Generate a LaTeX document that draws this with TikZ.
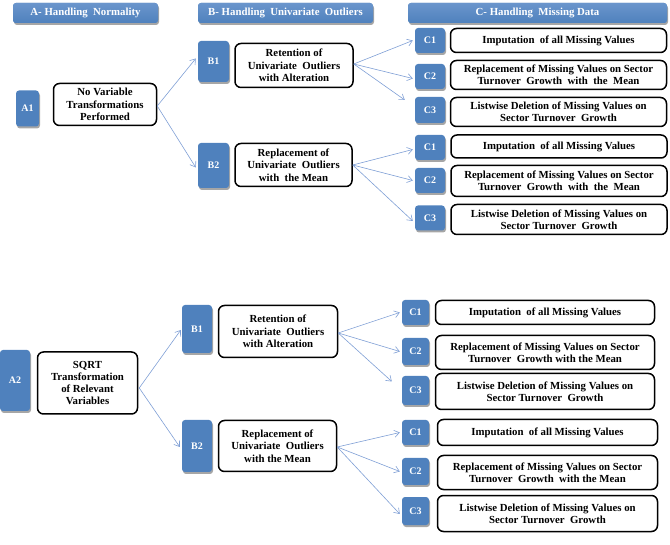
\documentclass[tikz,border=0pt]{standalone}
\usepackage{fontspec}
\setmainfont{Liberation Serif}
\newfontfamily\tnr{Liberation Serif}
\usetikzlibrary{shadows,arrows.meta}
\definecolor{boxblue}{HTML}{4F81BD}
\definecolor{hdrtop}{HTML}{6A95CC}
\definecolor{arrowblue}{HTML}{7F9FD5}
\tikzset{
  bluebox/.style={fill=boxblue, rounded corners=3pt, text=white, inner sep=0pt,
    font=\tnr\bfseries\fontsize{10}{11}\selectfont,
    drop shadow={shadow xshift=1pt, shadow yshift=-2pt, opacity=0.35, fill=black}},
  hdr/.style={bluebox, top color=hdrtop, bottom color=boxblue, minimum height=20pt,
    font=\tnr\bfseries\fontsize{10.8}{12}\selectfont},
  tbox/.style={draw=black, line width=1.5pt, rounded corners=6pt, fill=white,
    align=center, inner sep=1pt, font=\tnr\bfseries\fontsize{10.8}{12.3}\selectfont},
  conn/.style={draw=arrowblue, line width=0.6pt, -{Straight Barb[length=5pt,width=7pt]}}
}
\begin{document}
\begin{tikzpicture}[x=1pt,y=-1pt]
\useasboundingbox (0,0) rectangle (670,545);
% headers
\node[hdr, minimum width=145pt] (hA) at (85.5,13) {A- Handling\ \ Normality};
\node[hdr, minimum width=175pt] (hB) at (285.5,13) {B- Handling\ \ Univariate\ \ Outliers};
\node[hdr, minimum width=259pt] (hC) at (537.5,13) {C- Handling\ \ Missing Data};

% ===== top section =====
\node[bluebox, minimum width=23pt, minimum height=36pt] (a1) at (27.5,108.5) {A1};
\node[tbox, minimum width=103pt, minimum height=42pt] (a1t) at (105,104.5) {No Variable\\Transformations\\Performed};

\node[bluebox, minimum width=31pt, minimum height=41pt] (b1) at (213.5,61.5) {B1};
\node[tbox, minimum width=118pt, minimum height=44pt] (b1t) at (294,65.5) {Retention of\\Univariate\ \ Outliers\\with Alteration};
\node[bluebox, minimum width=31pt, minimum height=45pt] (b2) at (213.5,165.5) {B2};
\node[tbox, minimum width=117pt, minimum height=43pt] (b2t) at (293.5,165) {Replacement of\\Univariate\ \ Outliers\\with\ \ the Mean};

\node[bluebox, minimum width=30pt, minimum height=25pt] (c1) at (430,40.5) {C1};
\node[bluebox, minimum width=30pt, minimum height=25pt] (c2) at (430,76.5) {C2};
\node[bluebox, minimum width=30pt, minimum height=26pt] (c3) at (430,110) {C3};
\node[tbox, minimum width=216pt, minimum height=24pt] (t1) at (558.5,40.5) {Imputation\ \ of all Missing Values};
\node[tbox, minimum width=216pt, minimum height=29pt] (t2) at (558.5,75) {Replacement of Missing Values on Sector\\Turnover\ \ Growth\ \ with\ \ the\ \ Mean};
\node[tbox, minimum width=216pt, minimum height=29pt] (t3) at (558.5,112) {Listwise Deletion of Missing Values on\\Sector Turnover\ \ Growth};

\node[bluebox, minimum width=30pt, minimum height=25pt] (c4) at (430,147.5) {C1};
\node[bluebox, minimum width=30pt, minimum height=25pt] (c5) at (430,180.5) {C2};
\node[bluebox, minimum width=30pt, minimum height=25pt] (c6) at (430,218) {C3};
\node[tbox, minimum width=216pt, minimum height=23pt] (t4) at (559,146.5) {Imputation\ \ of all Missing Values};
\node[tbox, minimum width=216pt, minimum height=31pt] (t5) at (559,181) {Replacement of Missing Values on Sector\\Turnover\ \ Growth\ \ with\ \ the\ \ Mean};
\node[tbox, minimum width=216pt, minimum height=30pt] (t6) at (559,219.5) {Listwise Deletion of Missing Values on\\Sector Turnover\ \ Growth};

\coordinate (a1o) at ([yshift=-1.5pt]a1t.east);
\draw[conn] (a1o) -- ([xshift=-2pt,yshift=3pt]b1.west);
\draw[conn] (a1o) -- ([xshift=-2pt,yshift=-2pt]b2.west);
\coordinate (b1o) at ([yshift=1.5pt]b1t.east);
\coordinate (e1) at ([xshift=-10pt,yshift=10pt]c3.west);
\draw[conn] (b1o) -- ([xshift=-2pt]c1.west);
\draw[conn] (b1o) -- ([xshift=-2pt,yshift=-2pt]c2.west);
\draw[conn] (b1o) -- (e1);
\draw[conn] (b2t.east) -- ([xshift=-2pt,yshift=-2pt]c4.west);
\draw[conn] (b2t.east) -- ([xshift=-2pt]c5.west);
\draw[conn] (b2t.east) -- ([xshift=-2pt,yshift=-3pt]c6.west);

% ===== bottom section =====
\node[bluebox, minimum width=30pt, minimum height=61pt] (a2) at (15,380.5) {A2};
\node[tbox, minimum width=100pt, minimum height=62pt] (a2t) at (87.5,383) {SQRT\\Transformation\\of Relevant\\Variables};

\node[bluebox, minimum width=30pt, minimum height=48pt] (b3) at (197,329) {B1};
\node[tbox, minimum width=119pt, minimum height=52pt] (b3t) at (278,331.5) {Retention of\\Univariate\ \ Outliers\\with Alteration};
\node[bluebox, minimum width=30pt, minimum height=52pt] (b4) at (197,446) {B2};
\node[tbox, minimum width=118pt, minimum height=51pt] (b4t) at (277.5,446) {Replacement of\\Univariate\ \ Outliers\\with the Mean};

\node[bluebox, minimum width=27pt, minimum height=25pt] (c7) at (415.5,312.5) {C1};
\node[bluebox, minimum width=27pt, minimum height=27pt] (c8) at (415.5,351.5) {C2};
\node[bluebox, minimum width=27pt, minimum height=29pt] (c9) at (415.5,390.5) {C3};
\node[tbox, minimum width=219pt, minimum height=24pt] (t7) at (545,312.5) {Imputation\ \ of all Missing Values};
\node[tbox, minimum width=219pt, minimum height=34pt] (t8) at (545,352.5) {Replacement of Missing Values on Sector\\Turnover\ \ Growth with the Mean};
\node[tbox, minimum width=219pt, minimum height=36pt] (t9) at (545,391.5) {Listwise Deletion of Missing Values on\\Sector Turnover\ \ Growth};

\node[bluebox, minimum width=27pt, minimum height=25pt] (c10) at (415.5,432.5) {C1};
\node[bluebox, minimum width=27pt, minimum height=27pt] (c11) at (415.5,471.5) {C2};
\node[bluebox, minimum width=27pt, minimum height=28pt] (c12) at (415.5,511) {C3};
\node[tbox, minimum width=220pt, minimum height=26pt] (t10) at (547.5,432.5) {Imputation\ \ of all Missing Values};
\node[tbox, minimum width=220pt, minimum height=34pt] (t11) at (547.5,472.5) {Replacement of Missing Values on Sector\\Turnover\ \ Growth\ \ with the Mean};
\node[tbox, minimum width=220pt, minimum height=36pt] (t12) at (547.5,513.5) {Listwise Deletion of Missing Values on\\Sector Turnover\ \ Growth};

\coordinate (a2o) at ([xshift=1pt,yshift=-5pt]a2t.east);
\draw[conn] (a2o) -- ([xshift=-1pt,yshift=-1pt]b3.west);
\draw[conn] (a2o) -- ([xshift=-2pt,yshift=-1pt]b4.west);
\coordinate (b3o) at ([yshift=-1.5pt]b3t.east);
\coordinate (e2) at ([xshift=-10pt,yshift=9pt]c9.west);
\draw[conn] (b3o) -- ([xshift=-2pt]c7.west);
\draw[conn] (b3o) -- ([xshift=-2pt]c8.west);
\draw[conn] (b3o) -- (e2);
\coordinate (b4o) at ([yshift=-1pt]b4t.east);
\draw[conn] (b4o) -- ([xshift=-2pt]c10.west);
\draw[conn] (b4o) -- ([xshift=-2pt]c11.west);
\draw[conn] (b4o) -- ([xshift=-2pt,yshift=-3pt]c12.west);
\end{tikzpicture}
\end{document}
